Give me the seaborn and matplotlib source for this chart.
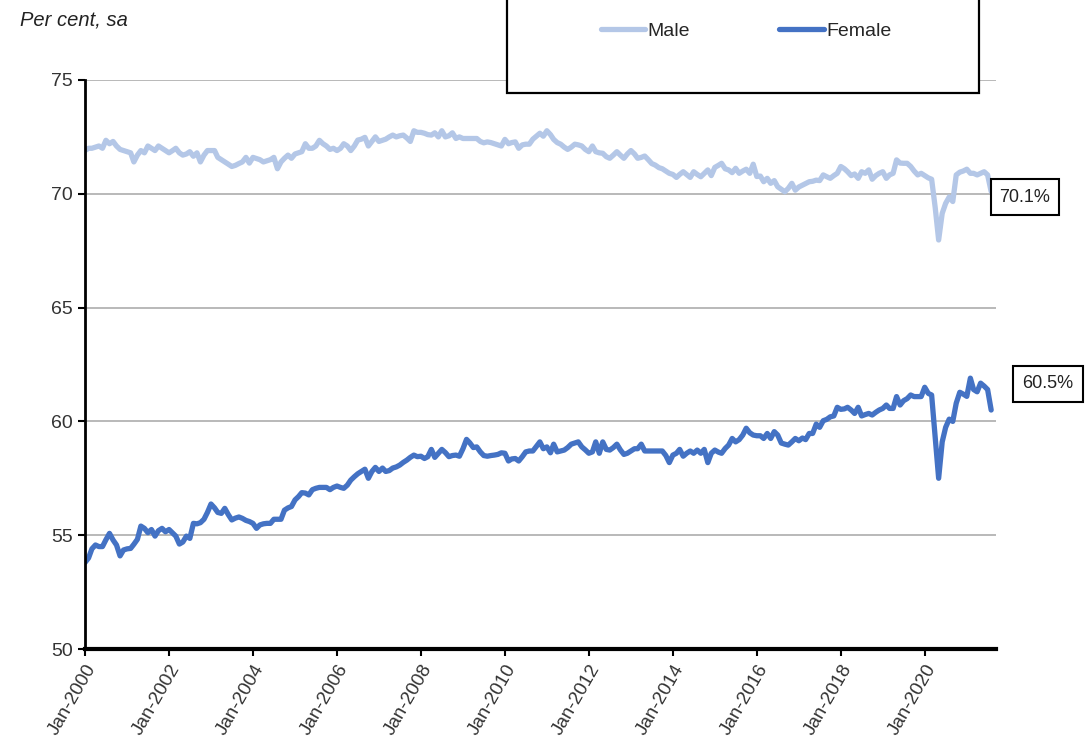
import numpy as np
import pandas as pd
import matplotlib
matplotlib.use("Agg")
import matplotlib.pyplot as plt
import matplotlib.dates as mdates
from matplotlib.patches import Rectangle
import seaborn as sns

# Monthly participation rates (per cent, sa), Jan-2000 to Aug-2021
male_2000 = [71.9, 72.0, 72.0, 72.05, 72.1, 72.0, 72.35, 72.2, 72.3, 72.1, 71.95, 71.9]
male_2001 = [71.85, 71.8, 71.4, 71.7, 71.9, 71.8, 72.1, 72.0, 71.9, 72.1, 72.0, 71.9]
male_2002 = [71.8, 71.9, 72.0, 71.8, 71.7, 71.75, 71.85, 71.65, 71.8, 71.4, 71.7, 71.9]
male_2003 = [71.9, 71.9, 71.6, 71.5, 71.4, 71.3, 71.2, 71.25, 71.33, 71.4, 71.6, 71.35]
male_2004 = [71.6, 71.55, 71.5, 71.4, 71.45, 71.5, 71.6, 71.1, 71.4, 71.56, 71.7, 71.56]
male_2005 = [71.75, 71.8, 71.85, 72.2, 72.0, 72.0, 72.1, 72.35, 72.2, 72.1, 71.95, 72.0]
male_2006 = [71.9, 72.0, 72.2, 72.1, 71.9, 72.1, 72.36, 72.4, 72.48, 72.1, 72.3, 72.5]
male_2007 = [72.3, 72.35, 72.4, 72.5, 72.58, 72.5, 72.55, 72.58, 72.45, 72.3, 72.77, 72.7]
male_2008 = [72.7, 72.66, 72.6, 72.58, 72.68, 72.5, 72.77, 72.5, 72.55, 72.68, 72.43, 72.5]
male_2009 = [72.43, 72.43, 72.43, 72.43, 72.43, 72.3, 72.24, 72.28, 72.25, 72.2, 72.15, 72.1]
male_2010 = [72.39, 72.2, 72.25, 72.28, 72.0, 72.15, 72.18, 72.18, 72.4, 72.53, 72.66, 72.53]
male_2011 = [72.77, 72.6, 72.39, 72.25, 72.18, 72.05, 71.95, 72.05, 72.18, 72.15, 72.1, 71.95]
male_2012 = [71.85, 72.1, 71.85, 71.8, 71.78, 71.63, 71.56, 71.7, 71.85, 71.7, 71.56, 71.75]
male_2013 = [71.9, 71.75, 71.56, 71.6, 71.66, 71.5, 71.33, 71.26, 71.15, 71.1, 71.0, 70.9]
male_2014 = [70.85, 70.72, 70.85, 70.97, 70.85, 70.72, 70.97, 70.85, 70.75, 70.9, 71.05, 70.8]
male_2015 = [71.16, 71.25, 71.34, 71.1, 71.05, 70.93, 71.12, 70.9, 71.0, 71.08, 70.9, 71.3]
male_2016 = [70.76, 70.78, 70.53, 70.68, 70.46, 70.58, 70.31, 70.2, 70.09, 70.24, 70.46, 70.16]
male_2017 = [70.3, 70.38, 70.45, 70.53, 70.55, 70.6, 70.58, 70.83, 70.75, 70.68, 70.8, 70.9]
male_2018 = [71.2, 71.1, 70.97, 70.8, 70.87, 70.68, 70.97, 70.9, 71.05, 70.64, 70.8, 70.9]
male_2019 = [70.97, 70.68, 70.83, 70.9, 71.49, 71.35, 71.34, 71.34, 71.2, 71.0, 70.83, 70.9]
male_2020 = [70.8, 70.7, 70.64, 69.4, 67.97, 69.14, 69.58, 69.86, 69.66, 70.83, 70.95, 71.0]
male_2021 = [71.08, 70.9, 70.9, 70.83, 70.9, 70.97, 70.83, 70.1]

female_2000 = [53.8, 54.0, 54.4, 54.57, 54.5, 54.5, 54.8, 55.08, 54.79, 54.57, 54.09, 54.35]
female_2001 = [54.4, 54.42, 54.6, 54.82, 55.4, 55.3, 55.11, 55.25, 54.96, 55.2, 55.3, 55.15]
female_2002 = [55.25, 55.1, 54.96, 54.61, 54.7, 54.96, 54.86, 55.52, 55.5, 55.55, 55.7, 56.0]
female_2003 = [56.37, 56.2, 56.0, 55.96, 56.18, 55.9, 55.67, 55.75, 55.8, 55.74, 55.65, 55.6]
female_2004 = [55.52, 55.3, 55.45, 55.5, 55.52, 55.52, 55.7, 55.7, 55.7, 56.1, 56.2, 56.26]
female_2005 = [56.55, 56.7, 56.87, 56.85, 56.77, 57.0, 57.06, 57.1, 57.1, 57.1, 57.0, 57.1]
female_2006 = [57.16, 57.1, 57.06, 57.2, 57.42, 57.57, 57.7, 57.8, 57.9, 57.5, 57.8, 57.98]
female_2007 = [57.8, 57.95, 57.8, 57.84, 57.95, 58.0, 58.08, 58.2, 58.3, 58.42, 58.52, 58.45]
female_2008 = [58.47, 58.37, 58.45, 58.77, 58.42, 58.6, 58.77, 58.63, 58.45, 58.5, 58.52, 58.47]
female_2009 = [58.8, 59.21, 59.06, 58.85, 58.88, 58.66, 58.5, 58.47, 58.5, 58.52, 58.55, 58.62]
female_2010 = [58.6, 58.26, 58.35, 58.37, 58.26, 58.45, 58.66, 58.7, 58.7, 58.9, 59.1, 58.8]
female_2011 = [58.88, 58.62, 59.0, 58.66, 58.7, 58.74, 58.85, 59.0, 59.05, 59.1, 58.88, 58.75]
female_2012 = [58.6, 58.66, 59.1, 58.6, 59.1, 58.77, 58.74, 58.85, 59.0, 58.75, 58.55, 58.6]
female_2013 = [58.7, 58.8, 58.8, 59.0, 58.7, 58.7, 58.7, 58.7, 58.7, 58.7, 58.5, 58.19]
female_2014 = [58.52, 58.6, 58.77, 58.47, 58.6, 58.7, 58.6, 58.74, 58.6, 58.77, 58.19, 58.6]
female_2015 = [58.74, 58.65, 58.6, 58.81, 58.96, 59.25, 59.1, 59.2, 59.4, 59.7, 59.5, 59.4]
female_2016 = [59.37, 59.37, 59.25, 59.47, 59.25, 59.55, 59.4, 59.05, 59.0, 58.96, 59.1, 59.25]
female_2017 = [59.15, 59.27, 59.2, 59.47, 59.47, 59.88, 59.74, 60.03, 60.09, 60.2, 60.24, 60.62]
female_2018 = [60.53, 60.55, 60.62, 60.5, 60.35, 60.62, 60.24, 60.3, 60.35, 60.28, 60.4, 60.5]
female_2019 = [60.57, 60.72, 60.57, 60.57, 61.09, 60.72, 60.91, 61.0, 61.16, 61.09, 61.09, 61.09]
female_2020 = [61.5, 61.23, 61.16, 59.3, 57.5, 59.1, 59.74, 60.1, 60.0, 60.8, 61.28, 61.2]
female_2021 = [61.1, 61.9, 61.4, 61.3, 61.68, 61.55, 61.4, 60.5]

male = sum([male_2000, male_2001, male_2002, male_2003, male_2004, male_2005,
            male_2006, male_2007, male_2008, male_2009, male_2010, male_2011,
            male_2012, male_2013, male_2014, male_2015, male_2016, male_2017,
            male_2018, male_2019, male_2020, male_2021], [])
female = sum([female_2000, female_2001, female_2002, female_2003, female_2004,
              female_2005, female_2006, female_2007, female_2008, female_2009,
              female_2010, female_2011, female_2012, female_2013, female_2014,
              female_2015, female_2016, female_2017, female_2018, female_2019,
              female_2020, female_2021], [])

months = pd.date_range("2000-01-01", periods=len(male), freq="MS")
series_names = ["Male", "Female"]
series_colors = ["#B4C7E7", "#4472C4"]

df = pd.DataFrame({
    "date": np.concatenate([months, months]),
    "value": male + female,
    "series": ["Male"] * len(male) + ["Female"] * len(female),
})

sns.set_theme(style="white")
plt.rcParams["font.family"] = ["Liberation Sans", "DejaVu Sans"]

fig = plt.figure(figsize=(10.89, 7.41), dpi=100)
ax = fig.add_axes([85 / 1089, 1 - 649 / 741, (996 - 85) / 1089, (649 - 80) / 741])

sns.lineplot(data=df, x="date", y="value", hue="series", hue_order=series_names,
             palette=series_colors, linewidth=3.8, ax=ax, legend=True)

ax.set_ylim(50, 75)
ax.set_xlim(months[0], pd.Timestamp("2021-09-12"))
ax.set_yticks([50, 55, 60, 65, 70, 75])
ax.set_yticklabels(["50", "55", "60", "65", "70", "75"], fontsize=14, color="#333333")
for yv in [55, 60, 65, 70, 75]:
    ax.axhline(yv, color="#A6A6A6", linewidth=1.1, zorder=0)

tick_dates = pd.date_range("2000-01-01", "2020-01-01", freq="24MS")
ax.set_xticks(tick_dates)
ax.xaxis.set_major_formatter(mdates.DateFormatter("%b-%Y"))
for lab in ax.get_xticklabels():
    lab.set_rotation(60)
    lab.set_ha("right")
    lab.set_rotation_mode("anchor")
    lab.set_fontsize(13.5)
    lab.set_color("#333333")

ax.set_xlabel("")
ax.set_ylabel("")
for side in ["top", "right"]:
    ax.spines[side].set_visible(False)
ax.spines["left"].set_color("black")
ax.spines["left"].set_linewidth(2)
ax.spines["bottom"].set_color("black")
ax.spines["bottom"].set_linewidth(3)
ax.tick_params(axis="both", which="major", direction="out", length=5, width=1.5,
               color="black", left=True, bottom=True)
ax.tick_params(axis="x", pad=4)

# legend in an open-topped box
box = Rectangle((507 / 1089, 1 - 93 / 741), (979 - 507) / 1089, 100 / 741,
                transform=fig.transFigure, facecolor="white", edgecolor="black",
                linewidth=1.6, zorder=5, clip_on=False)
fig.patches.append(box)
handles, labels = ax.get_legend_handles_labels()
ax.get_legend().remove()
fig.legend(handles, labels, loc="center", bbox_to_anchor=(746 / 1089, 1 - 31 / 741),
           ncol=2, frameon=False, fontsize=14, handlelength=2.3, handletextpad=0.1,
           columnspacing=4.6).set_zorder(6)

fig.text(20 / 1089, 1 - 20 / 741, "Per cent, sa", fontsize=14.5, style="italic",
         color="#222222", ha="left", va="center")

# end-of-series value labels
fig.text(1025 / 1089, 1 - 197 / 741, f"{male[-1]:.1f}%", fontsize=13, ha="center",
         va="center", color="#222222",
         bbox=dict(boxstyle="square,pad=0.5", facecolor="white", edgecolor="black", linewidth=1.5))
fig.text(1048 / 1089, 1 - 384 / 741, f"{female[-1]:.1f}%", fontsize=13, ha="center",
         va="center", color="#222222",
         bbox=dict(boxstyle="square,pad=0.5", facecolor="white", edgecolor="black", linewidth=1.5))

fig.savefig("out.png", dpi=100, facecolor="white")
